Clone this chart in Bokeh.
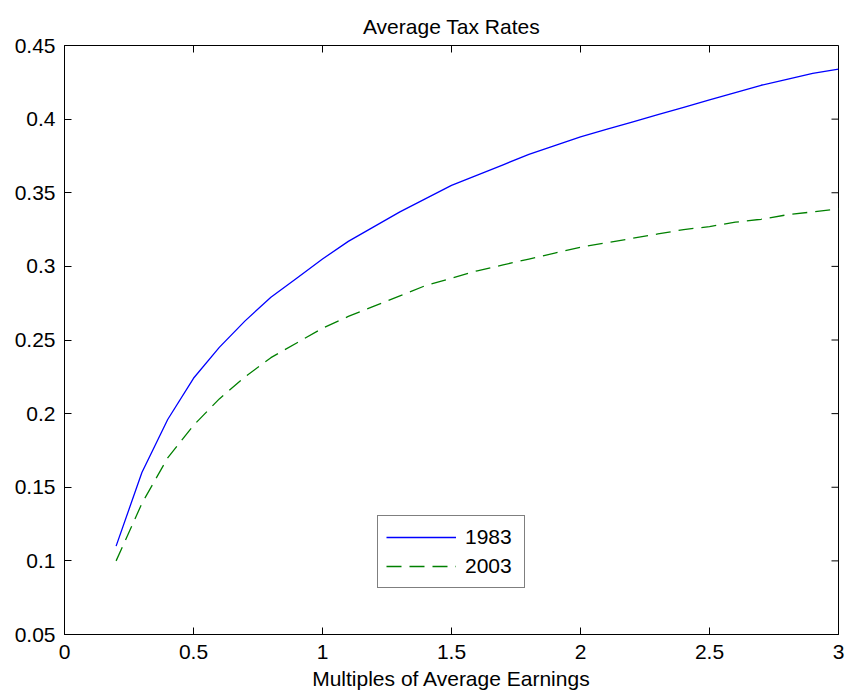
import math
from bokeh.plotting import figure
from bokeh.models import ColumnDataSource, Range1d, FixedTicker, LinearAxis, Legend, LegendItem
from bokeh.embed import file_html
from bokeh.resources import INLINE

# ---- data ----
multiples = [0.2, 0.3, 0.4, 0.5, 0.6, 0.7, 0.8, 0.9, 1.0, 1.1, 1.2, 1.3, 1.4, 1.5,
             1.6, 1.7, 1.8, 1.9, 2.0, 2.1, 2.2, 2.3, 2.4, 2.5, 2.6, 2.7, 2.8, 2.9, 3.0]
rates_1983 = [0.110, 0.160, 0.196, 0.224, 0.245, 0.263, 0.279, 0.292, 0.305, 0.317,
              0.327, 0.337, 0.346, 0.355, 0.362, 0.369, 0.376, 0.382, 0.388, 0.393,
              0.398, 0.403, 0.408, 0.413, 0.418, 0.423, 0.427, 0.431, 0.434]
rates_2003 = [0.100, 0.139, 0.170, 0.192, 0.210, 0.225, 0.238, 0.248, 0.258, 0.266,
              0.273, 0.280, 0.287, 0.292, 0.297, 0.301, 0.305, 0.309, 0.313, 0.316,
              0.319, 0.322, 0.325, 0.327, 0.330, 0.332, 0.335, 0.337, 0.339]
series_names = ["1983", "2003"]

x_ticks = [0, 0.5, 1, 1.5, 2, 2.5, 3]
x_tick_labels = ["0", "0.5", "1", "1.5", "2", "2.5", "3"]
y_ticks = [0.05, 0.1, 0.15, 0.2, 0.25, 0.3, 0.35, 0.4, 0.45]
y_tick_labels = ["0.05", "0.1", "0.15", "0.2", "0.25", "0.3", "0.35", "0.4", "0.45"]
x_lim = (0, 3)
y_lim = (0.05, 0.45)

title_text = "Average Tax Rates"
x_label = "Multiples of Average Earnings"

FONT = "Liberation Sans"
FS = "21px"
TICK_LEN = 7

src = ColumnDataSource(dict(x=multiples, y1983=rates_1983, y2003=rates_2003))

p = figure(width=845, height=695, output_backend="svg", toolbar_location=None,
           x_range=Range1d(*x_lim), y_range=Range1d(*y_lim),
           min_border_left=64, min_border_right=7, min_border_top=45, min_border_bottom=61,
           x_axis_location=None, y_axis_location=None)
p.background_fill_color = "white"
p.border_fill_color = "white"
p.outline_line_color = "black"
p.outline_line_width = 1
p.xgrid.visible = False
p.ygrid.visible = False

p.title.text = title_text
p.title.align = "center"
p.title.vertical_align = "top"
p.title.text_font = FONT
p.title.text_font_size = FS
p.title.text_font_style = "normal"
p.title.text_color = "black"
p.title.text_line_height = 0.6
p.title.standoff = 12

def make_axis(ticks, labels):
    ax = LinearAxis(ticker=FixedTicker(ticks=ticks))
    ax.major_label_overrides = {t: l for t, l in zip(ticks, labels)}
    ax.major_tick_in = TICK_LEN
    ax.major_tick_out = 0
    ax.minor_tick_line_color = None
    ax.axis_line_color = "black"
    ax.major_tick_line_color = "black"
    ax.major_label_text_font = FONT
    ax.major_label_text_color = "black"
    ax.major_label_text_font_size = FS
    return ax

xb = make_axis(x_ticks, x_tick_labels)
xb.major_label_standoff = 10
xb.axis_label = x_label
xb.axis_label_text_font = FONT
xb.axis_label_text_font_size = FS
xb.axis_label_text_font_style = "normal"
xb.axis_label_text_color = "black"
xb.axis_label_standoff = 5
p.add_layout(xb, "below")

yl = make_axis(y_ticks, y_tick_labels)
yl.major_label_standoff = 9
p.add_layout(yl, "left")

# mirrored tick marks on the top and right edges of the box (MATLAB style)
p.ray(x=x_ticks, y=[y_lim[1]] * len(x_ticks), length=TICK_LEN, length_units="screen",
      angle=-math.pi / 2, line_color="black", line_width=1)
p.ray(x=[x_lim[1]] * len(y_ticks), y=y_ticks, length=TICK_LEN, length_units="screen",
      angle=math.pi, line_color="black", line_width=1)

r1 = p.line("x", "y1983", source=src, line_color="#0000ff", line_width=1.3)
r2 = p.line("x", "y2003", source=src, line_color="#008000", line_width=1.3,
            line_dash="15 8")

legend = Legend(items=[LegendItem(label=series_names[0], renderers=[r1]),
                       LegendItem(label=series_names[1], renderers=[r2])],
                location=(313, 46))
legend.padding = 8
legend.spacing = 3
legend.margin = 0
legend.glyph_width = 70
legend.glyph_height = 26
legend.label_height = 26
legend.label_width = 51
legend.label_standoff = 9
legend.label_text_font = FONT
legend.label_text_font_size = FS
legend.label_text_color = "black"
legend.border_line_color = "black"
legend.border_line_width = 1
legend.background_fill_color = "white"
legend.background_fill_alpha = 1
p.add_layout(legend, "center")

open("out.html", "w").write(file_html(p, INLINE))
